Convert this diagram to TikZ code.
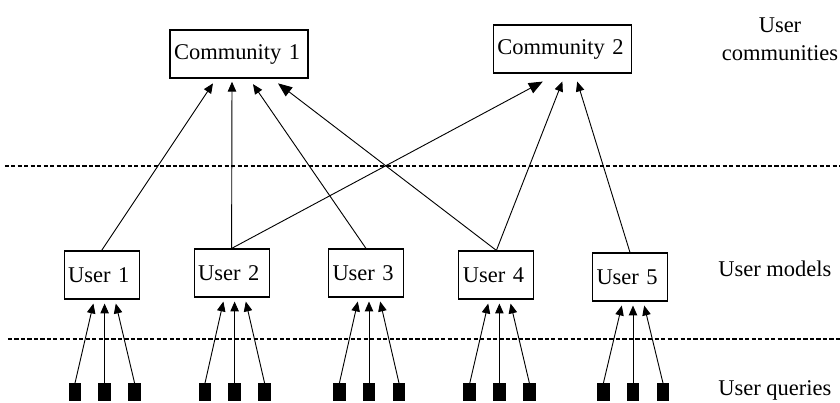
\documentclass[tikz,border=0pt]{standalone}
\usepackage{fontspec}
\setmainfont{Liberation Serif}
\usepackage{tikz}
\usetikzlibrary{arrows.meta,calc,positioning}

\begin{document}
\begin{tikzpicture}[>={Triangle[length=7pt,width=6pt]},line cap=butt,line join=miter,
  font=\fontsize{16pt}{20pt}\selectfont,
  box/.style={draw,line width=.8pt,inner xsep=.1cm,align=left,minimum height=1.2cm},
  query/.style={fill=black,inner sep=0pt,minimum width=.32cm,minimum height=.44cm},
  link/.style={->,line width=.65pt},
  biglink/.style={-{Triangle[length=10pt,width=8pt]},line width=.65pt},
  divider/.style={line width=.9pt,dash pattern=on 3pt off 1.6pt},
  layer/.style={inner sep=0pt,align=center}]
\path[use as bounding box] (0,0) rectangle (21,10.075);
\fill[white] (0,0) rectangle (21,10.075);
% 两条分层虚线
\draw[divider] (0.12,5.925) -- (21,5.925);
\draw[divider] (0.2,1.6) -- (21,1.6);
% 社区层
\node[box,text width=3.25cm] (c1) at (5.975,8.725) {Community 1};
\node[box,text width=3.25cm] (c2) at (14.06,8.85) {Community 2};
% 用户模型层，每个用户下面三个查询
\foreach \u/\x/\y in {1/2.54/3.2,2/5.79/3.25,3/9.15/3.25,4/12.41/3.2,5/15.75/3.15} {
  \node[box,text width=1.675cm] (u\u) at (\x,\y) {User \u};
  \coordinate (m\u) at ($(u\u.south)+(.075,0)$);
  \node[query] (q\u-2) at (m\u |- 0,.27) {};
  \node[query] (q\u-1) at ($(q\u-2)+(-.74,0)$) {};
  \node[query] (q\u-3) at ($(q\u-2)+(.75,0)$) {};
  \draw[link] (q\u-1.north) -- ([xshift=-.205cm,yshift=-.1cm]u\u.south);
  \draw[link] (q\u-2.north) -- ($(q\u-2 |- u\u.south)+(0,-.1)$);
  \draw[link] (q\u-3.north) -- ([xshift=.355cm,yshift=-.1cm]u\u.south);
}
% 用户到社区的归属
\draw[link] (u1.north) -- ([xshift=-.65cm,yshift=-.12cm]c1.south);
\draw[link] (u2.north) -- ([xshift=-.175cm,yshift=-.08cm]c1.south);
\draw[link] (u3.north) -- ([xshift=.35cm,yshift=-.14cm]c1.south);
\draw[biglink] (u4.north) -- ([xshift=.975cm,yshift=-.12cm]c1.south);
\draw[biglink] (u2.north) -- ([xshift=-.49cm,yshift=-.2cm]c2.south);
\draw[link] (u4.north) -- ([xshift=0cm,yshift=-.2cm]c2.south);
\draw[link] (u5.north) -- ([xshift=.37cm,yshift=-.2cm]c2.south);
% 右侧的层名
\node[layer] (lcomm) at (19.5,9.1) {User\\communities};
\node[layer,anchor=base west] (lmodel) at (17.95,3.15) {User models};
\node[layer,anchor=base west] (lquery) at (17.95,.18) {User queries};
\end{tikzpicture}
\end{document}
